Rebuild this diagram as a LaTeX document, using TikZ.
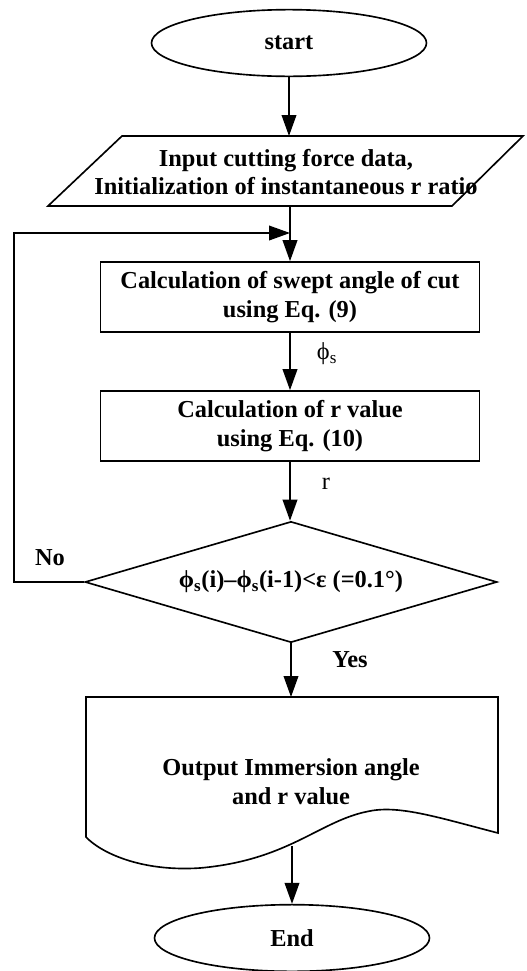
\documentclass[tikz,border=0pt]{standalone}
\usepackage{fontspec}
\setmainfont{Liberation Serif}
\usetikzlibrary{positioning, arrows.meta, shapes.geometric, calc}

\newcommand{\flowfont}{\fontsize{20.8}{24.5}\selectfont}

\tikzset{
  flowline/.style={line width=1.4pt, draw=black},
  flowarrow/.style={flowline, -{Triangle[length=6.3mm, width=4.4mm]}},
  terminal/.style={ellipse, draw, line width=1.4pt, minimum width=8.25cm,
                   minimum height=2cm, font=\flowfont\bfseries},
  procbox/.style={rectangle, draw, line width=1.4pt, minimum width=11.37cm,
                  minimum height=2.1cm, align=center, font=\flowfont\bfseries},
  decide/.style={diamond, draw, line width=1.4pt, aspect=3.4, minimum width=12.36cm,
                 minimum height=3.63cm, inner sep=0pt, font=\flowfont\bfseries},
  plaintext/.style={align=center, font=\flowfont\bfseries},
  edgelabel/.style={font=\flowfont},
}

\begin{document}
\begin{tikzpicture}[x=0.03cm, y=-0.03cm]
  \useasboundingbox (0,0) rectangle (526,971);

  % terminals and process boxes
  \node[terminal] (start) at (289,43) {start};
  \node[procbox] (calc1) at (290,297) {Calculation of swept angle of cut\\using Eq. (9)};
  \node[procbox] (calc2) at (290,426) {Calculation of r value\\using Eq. (10)};
  \node[decide] (check) at (291,582) {ϕ\textsubscript{s}(i)–ϕ\textsubscript{s}(i-1)<ε (=0.1°)};
  \node[terminal] (stop) at (292,938) {End};

  % input parallelogram
  \draw[flowline] (122,136) -- (523,136) -- (452,206) -- (48,206) -- cycle;
  \node[plaintext] (input) at (286,172) {Input cutting force data,\\Initialization of instantaneous r ratio};
  \coordinate (intop) at (289,136);
  \coordinate (inbot) at (290,206);

  % output document
  \draw[flowline] (86,697) -- (498,697) -- (498,833)
    .. controls (440,818) and (400,805) .. (370,811)
    .. controls (320,820) and (290,860) .. (200,868)
    .. controls (140,872) and (100,852) .. (86,837) -- cycle;
  \node[plaintext] (output) at (291,782) {Output Immersion angle\\and r value};
  \coordinate (outtop) at (291,697);
  \coordinate (outbot) at (292,846);

  % loop-back path
  \coordinate (join) at (290,233);
  \coordinate (loopbot) at (14,582);
  \coordinate (looptop) at (14,233);

  \draw[flowarrow] (start.south) -- (intop);
  \draw[flowarrow] (inbot) -- (calc1.north);
  \draw[flowarrow] (check.west) -- (loopbot) -- (looptop) -- (join);
  \draw[flowarrow] (calc1.south) -- (calc2.north);
  \draw[flowarrow] (calc2.south) -- (check.north -| calc2.south);
  \draw[flowarrow] (check.south) -- (outtop);
  \draw[flowarrow] (outbot) -- (stop.north);

  % labels
  \node[edgelabel] (phis) at (327,354) {ϕ\textsubscript{s}};
  \node[edgelabel] (rlab) at (326,484) {r};
  \node[plaintext] (nolab) at (50,558) {No};
  \node[plaintext] (yeslab) at (350,660) {Yes};
\end{tikzpicture}
\end{document}
